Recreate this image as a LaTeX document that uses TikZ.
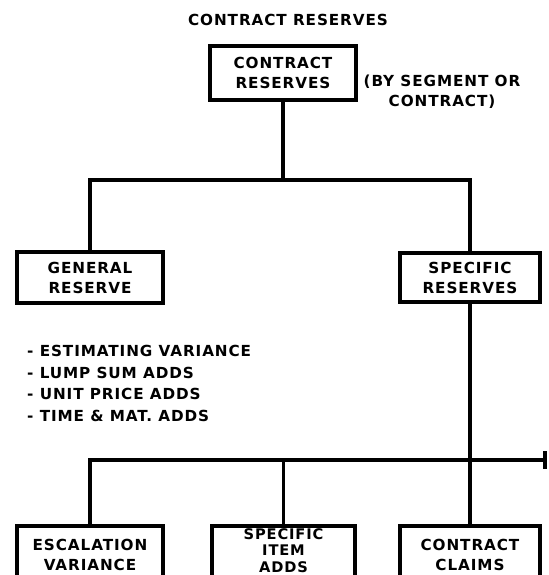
\documentclass[tikz,border=0pt]{standalone}
\usepackage{fontspec}
\newfontfamily\chartfont[LetterSpace=6]{DejaVu Sans}
\usetikzlibrary{positioning}

\begin{document}
\begin{tikzpicture}[
    x=0.03cm, y=-0.03cm,
  reservebox/.style={rectangle, draw, line width=3pt, minimum width=4.38cm, minimum height=1.58cm, inner sep=0pt, text centered, align=center, font={\chartfont\bfseries\fontsize{13}{17}\selectfont}},
  plaintext/.style={inner sep=0pt, font={\chartfont\bfseries\fontsize{13}{17}\selectfont}},
  link/.style={line width=3pt}
]
\useasboundingbox (0,0) rectangle (549,575);
\clip (0,0) rectangle (549,575);

% Title and top node
\node[plaintext] (title) at (288,20) {CONTRACT RESERVES};
\node[reservebox, minimum height=1.62cm] (top) at (283,73) {CONTRACT\\RESERVES};
\node[plaintext, align=center] (bysegment) at (442,92) {(BY SEGMENT OR\\CONTRACT)};

% Second level
\node[reservebox, minimum height=1.53cm] (general) at (90,277.5) {GENERAL\\RESERVE};
\node[reservebox, minimum height=1.47cm, minimum width=4.2cm] (specific) at (470,277.5) {SPECIFIC\\RESERVES};

\node[plaintext, align=left, anchor=north west, font={\chartfont\bfseries\fontsize{13}{18.5}\selectfont}] (items) at (27,345) {- ESTIMATING VARIANCE\\- LUMP SUM ADDS\\- UNIT PRICE ADDS\\- TIME \& MAT. ADDS};

% Third level (boxes run off the bottom edge)
\node[reservebox, minimum height=1.74cm] (escalation) at (90,555) {ESCALATION\\VARIANCE};
\node[reservebox, minimum height=1.74cm, minimum width=4.29cm, font={\chartfont\bfseries\fontsize{12.5}{14}\selectfont}] (itemadds) at (283.5,555) {SPECIFIC\\ITEM\\ADDS\\[-6pt]\mbox{}};
\node[reservebox, minimum height=1.74cm, minimum width=4.2cm] (claims) at (470,555) {CONTRACT\\CLAIMS};

% Connectors
\coordinate (upperbus) at (283,180);
\coordinate (lowerbus) at (545,460);

\draw[link] (top.south) -- (upperbus);
\draw[link] (general.north) |- (upperbus) -| (specific.north);

\draw[link] (specific.south) -- (claims.north);
\draw[link] (escalation.north) |- (lowerbus);
\draw[link] (itemadds.north) -- (itemadds.north |- lowerbus);
\draw[link] (lowerbus) ++(0,-9) -- ++(0,18);

\end{tikzpicture}
\end{document}
